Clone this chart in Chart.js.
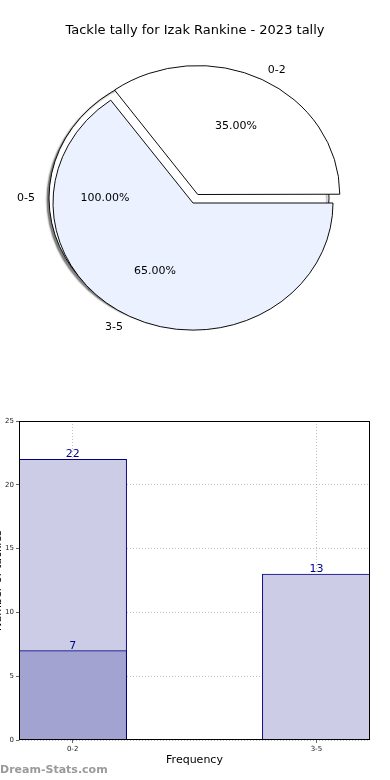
<!DOCTYPE html>
<html>
<head>
<meta charset="utf-8">
<script src="https://cdn.jsdelivr.net/npm/chart.js@4"></script>
<style>
html,body{margin:0;padding:0;background:#fff;width:390px;height:780px;overflow:hidden;position:relative;font-family:"DejaVu Sans",sans-serif;}
#title{position:absolute;left:0;top:22px;width:390px;text-align:center;font-size:13px;line-height:16px;color:#000;z-index:5;}
.pie{position:absolute;left:0;top:0;width:390px;height:400px;}
#barWrap{position:absolute;left:-12px;top:400px;width:402px;height:380px;}
#wm{position:absolute;left:0;top:763px;font-size:11px;line-height:14px;font-weight:bold;color:#9a9a9a;z-index:5;}
</style>
</head>
<body>
<div id="title">Tackle tally for Izak Rankine - 2023 tally</div>
<div class="pie"><canvas id="pieBg"></canvas></div>
<div class="pie"><canvas id="pieFg"></canvas></div>
<div id="barWrap"><canvas id="bar"></canvas></div>
<div id="wm">Dream-Stats.com</div>
<script>
// ---- data ----
const pieCategories = ['0-2', '3-5'];
const pieCounts = [7, 13];
const pieTotalLabel = ['0-5'];
const pieTotal = [20];

const barCategories = ['0-2', '3-5'];
const barTotals = [22, 13];
const barHighlight = [7, null];
const yTickStep = 5;
const yMax = 25;

Chart.defaults.font.family = '"DejaVu Sans", sans-serif';
Chart.defaults.animation = false;

const SQUISH = 0.908;
const LABEL_R = 140;

// labelAngle (degrees, screen) overrides the wedge mid-angle when given
function drawPieLabels(chart, ctx, squish, R, labelAngle) {
  const meta = chart.getDatasetMeta(0);
  const ds = chart.data.datasets[0];
  const total = ds.data.reduce((a, b) => a + b, 0);
  ctx.save();
  ctx.font = '11px "DejaVu Sans"';
  ctx.fillStyle = '#000';
  ctx.textBaseline = 'middle';
  meta.data.forEach((arc, i) => {
    const p = arc.getProps(['x', 'y', 'startAngle', 'endAngle'], true);
    const mid = labelAngle !== undefined ? labelAngle * Math.PI / 180 : (p.startAngle + p.endAngle) / 2;
    const shift = (arc.options.offset || 0) / 4;
    const cx = p.x + Math.cos(mid) * shift;
    const cy = p.y + Math.sin(mid) * shift * squish;
    const at = f => [cx + Math.cos(mid) * R * f, cy + Math.sin(mid) * R * f * squish];
    let [lx, ly] = at(1.1);
    ctx.textAlign = Math.cos(mid) >= 0 ? 'left' : 'right';
    ctx.fillText(chart.data.labels[i], lx, ly);
    [lx, ly] = at(0.6);
    ctx.textAlign = 'center';
    ctx.fillText((ds.data[i] / total * 100).toFixed(2) + '%', lx, ly);
  });
  ctx.restore();
}

let bgChart = null;

const pieDecor = {
  id: 'pieDecor',
  beforeDatasetsDraw(chart, args, opts) {
    const ctx = chart.ctx, ca = chart.chartArea;
    const cy = (ca.top + ca.bottom) / 2;
    ctx.save();
    ctx.translate(0, cy); ctx.scale(1, opts.squish); ctx.translate(0, -cy);
    if (opts.shadow) {
      ctx.shadowColor = 'rgba(0,0,0,0.5)';
      ctx.shadowOffsetX = -2; ctx.shadowOffsetY = 2; ctx.shadowBlur = 1.5;
    }
  },
  afterDatasetsDraw(chart) { chart.ctx.restore(); },
  afterDraw(chart, args, opts) {
    if (!opts.labels) return;
    if (opts.drawBg && bgChart) drawPieLabels(bgChart, chart.ctx, opts.squish, LABEL_R, 180);
    drawPieLabels(chart, chart.ctx, opts.squish, LABEL_R);
  }
};

// background full wedge (0-5); its seam is turned to lie under the 3-5 wedge
bgChart = new Chart(document.getElementById('pieBg'), {
  type: 'pie',
  data: {
    labels: pieTotalLabel,
    datasets: [{
      data: pieTotal,
      backgroundColor: '#ffffff',
      borderColor: '#000000',
      borderWidth: 1
    }]
  },
  options: {
    responsive: true, maintainAspectRatio: false, events: [],
    rotation: 225, radius: 140,
    layout: {padding: {left: 0, right: 12, top: 0, bottom: 4}},
    plugins: {legend: {display: false}, tooltip: {enabled: false},
      pieDecor: {squish: SQUISH, shadow: true, labels: false}}
  },
  plugins: [pieDecor]
});

const share0 = pieCounts[0] / pieCounts.reduce((a, b) => a + b, 0);
new Chart(document.getElementById('pieFg'), {
  type: 'pie',
  data: {
    labels: pieCategories,
    datasets: [{
      data: pieCounts,
      backgroundColor: ['#ffffff', '#ebf1fe'],
      borderColor: '#000000',
      borderWidth: 1,
      offset: c => c.dataIndex === 0 ? 42 : 0
    }]
  },
  options: {
    responsive: true, maintainAspectRatio: false, events: [],
    rotation: 90 - 360 * share0, radius: 140,
    layout: {padding: {left: 0, right: 4, top: 6, bottom: 0}},
    plugins: {legend: {display: false}, tooltip: {enabled: false},
      pieDecor: {squish: SQUISH, shadow: false, labels: true, drawBg: true}}
  },
  plugins: [pieDecor]
});

// ---- bar chart ----
const frame = {
  id: 'frame',
  afterDraw(chart) {
    const {ctx, chartArea: a} = chart;
    ctx.save();
    ctx.strokeStyle = '#000'; ctx.lineWidth = 1;
    ctx.strokeRect(Math.round(a.left) + 0.5, Math.round(a.top) + 0.5,
                   Math.round(a.right - a.left) - 1, Math.round(a.bottom - a.top) - 1);
    ctx.restore();
  }
};
const valueLabels = {
  id: 'valueLabels',
  afterDraw(chart) {
    const ctx = chart.ctx;
    ctx.save();
    ctx.font = '11px "DejaVu Sans"';
    ctx.fillStyle = '#00008b';
    ctx.textAlign = 'center';
    ctx.textBaseline = 'alphabetic';
    chart.data.datasets.forEach((ds, di) => {
      chart.getDatasetMeta(di).data.forEach((bar, i) => {
        const v = ds.data[i].y;
        ctx.fillText(String(v), bar.x, bar.y - 2);
      });
    });
    ctx.restore();
  }
};

const toPoints = arr => arr.map((v, i) => ({x: i, y: v})).filter(p => p.y !== null);

new Chart(document.getElementById('bar'), {
  type: 'bar',
  data: {
    datasets: [
      {label: 'highlight', data: toPoints(barHighlight), backgroundColor: '#a3a3d1',
       borderColor: '#000080', borderWidth: 1, order: 0, grouped: false, barThickness: 108},
      {label: 'total', data: toPoints(barTotals), backgroundColor: '#ccccE6',
       borderColor: '#000080', borderWidth: 1, order: 1, grouped: false, barThickness: 108}
    ]
  },
  options: {
    responsive: true, maintainAspectRatio: false, events: [],
    layout: {padding: {top: 21, right: 20, left: 0, bottom: 0}},
    plugins: {legend: {display: false}, tooltip: {enabled: false}},
    scales: {
      x: {
        type: 'linear', min: -0.22, max: 1.22, z: 1, offset: false,
        afterBuildTicks: s => { s.ticks = barCategories.map((c, i) => ({value: i})); },
        afterFit: s => { s.height = 40; },
        ticks: {callback: v => barCategories[v], font: {size: 7}, color: '#222', padding: 2, maxRotation: 0},
        grid: {offset: false, color: 'rgba(120,120,120,0.45)', lineWidth: 1, tickLength: 3, tickColor: '#666'},
        border: {display: false, dash: [1, 2]},
        title: {display: true, text: 'Frequency', font: {size: 11}, color: '#000', padding: {top: 0, bottom: 13}}
      },
      y: {
        min: 0, max: yMax, z: 1,
        afterFit: s => { s.width = 31; },
        ticks: {stepSize: yTickStep, font: {size: 7}, color: '#222', padding: 2},
        grid: {color: 'rgba(120,120,120,0.45)', lineWidth: 1, tickLength: 3, tickColor: '#666'},
        border: {display: false, dash: [1, 2]},
        title: {display: true, text: 'Number of tackles', font: {size: 11}, color: '#000', padding: {top: 4, bottom: 0}}
      }
    }
  },
  plugins: [frame, valueLabels]
});
</script>
</body>
</html>
